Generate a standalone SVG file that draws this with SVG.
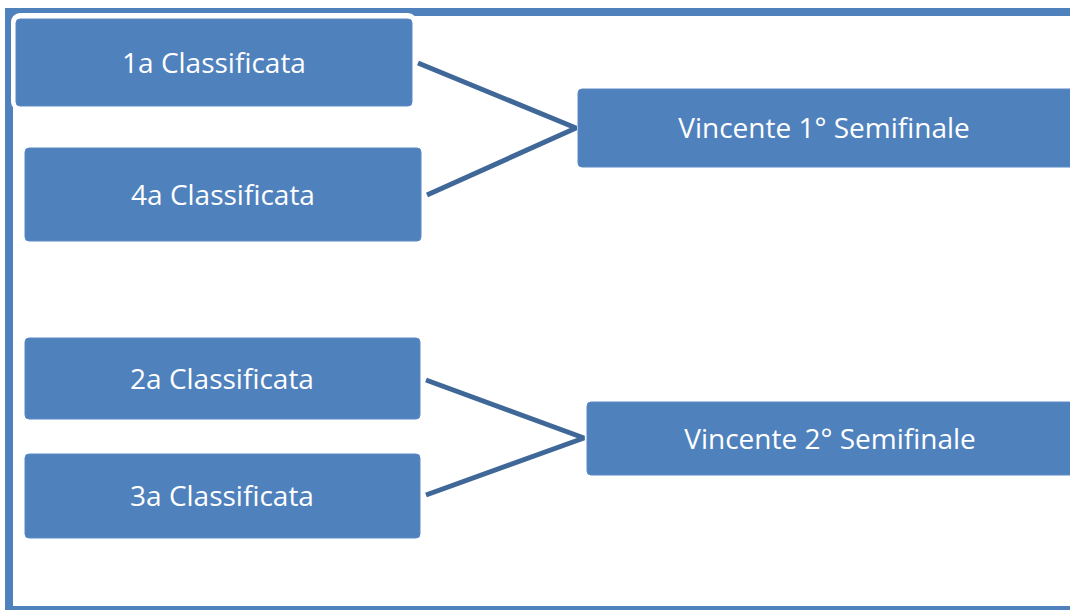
<svg xmlns="http://www.w3.org/2000/svg" width="1070" height="610" viewBox="0 0 1070 610">
<style>
.box{fill:#4F81BD;stroke:#5A8AC4;stroke-width:1}
.lbl{font-family:"Open Sans","Liberation Sans",sans-serif;font-size:28px;fill:#FFFFFF;text-anchor:middle}
.conn{fill:none;stroke:#3F6899;stroke-width:5;stroke-linejoin:bevel;stroke-linecap:butt}
.frame{fill:#4F81BD}
</style>
<rect width="1070" height="610" fill="#FFFFFF"/>
<g id="frame">
<rect class="frame" x="5" y="8" width="1065" height="8"/>
<rect class="frame" x="5" y="8" width="8" height="602"/>
<rect class="frame" x="5" y="606" width="1065" height="4"/>
</g>
<g id="connectors">
<polyline class="conn" points="418,63 576,128 427,195"/>
<polyline class="conn" points="426,380 584,438 426,495"/>
</g>
<g id="n1">
<rect x="11" y="13" width="406" height="98" rx="9" fill="#FFFFFF"/>
<rect class="box" x="16" y="19" width="396" height="87" rx="4"/>
<text class="lbl" x="214" y="73">1a Classificata</text>
</g>
<g id="n4">
<rect class="box" x="25" y="148" width="396" height="93" rx="4"/>
<text class="lbl" x="223" y="205">4a Classificata</text>
</g>
<g id="s1">
<rect class="box" x="578" y="89" width="496" height="78" rx="4"/>
<text class="lbl" x="824" y="138">Vincente 1° Semifinale</text>
</g>
<g id="n2">
<rect class="box" x="25" y="338" width="395" height="81" rx="4"/>
<text class="lbl" x="222" y="389">2a Classificata</text>
</g>
<g id="n3">
<rect class="box" x="25" y="454" width="395" height="84" rx="4"/>
<text class="lbl" x="222" y="506">3a Classificata</text>
</g>
<g id="s2">
<rect class="box" x="587" y="402" width="487" height="73" rx="4"/>
<text class="lbl" x="830" y="449">Vincente 2° Semifinale</text>
</g>
</svg>
